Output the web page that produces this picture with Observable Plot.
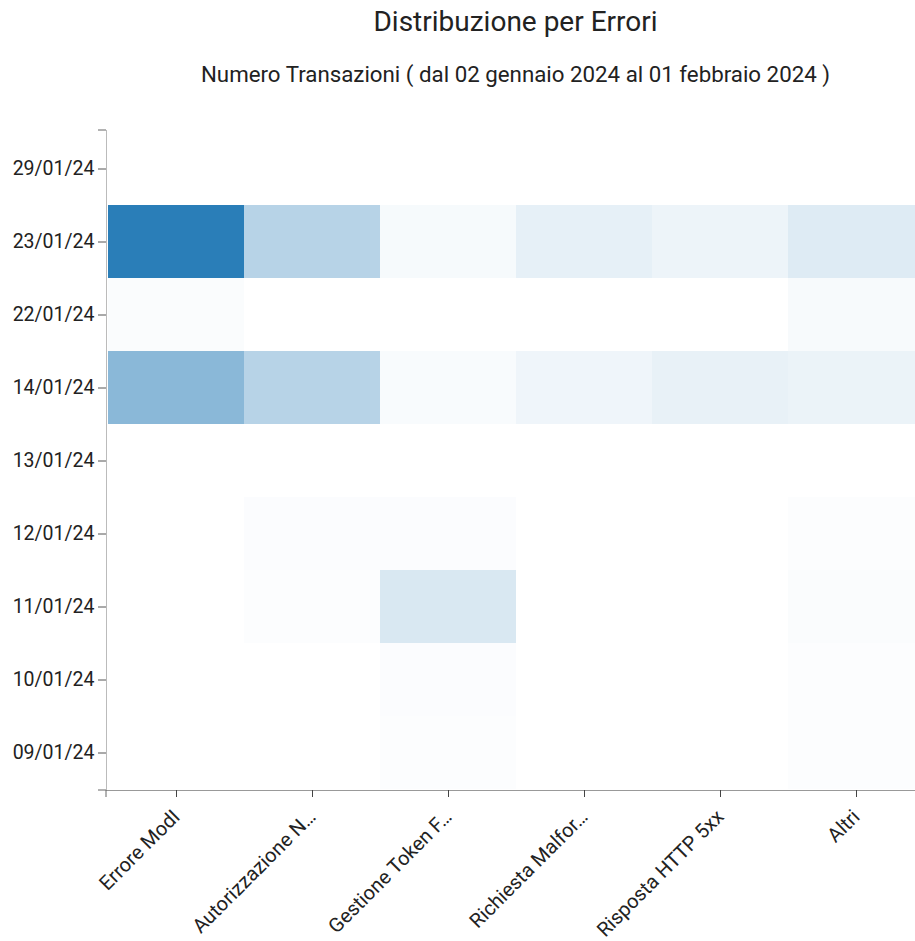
<!DOCTYPE html>
<html><head><meta charset="utf-8">
<script src="https://cdn.jsdelivr.net/npm/d3@7"></script>
<script src="https://cdn.jsdelivr.net/npm/@observablehq/plot@0.6"></script>
<style>
body{margin:0;background:#fff;font-family:Roboto, sans-serif;overflow:hidden}
#head{position:relative;width:915px;height:100px}
#title{position:absolute;left:106px;width:819px;top:6px;text-align:center;font-size:28px;color:#222;line-height:32px}
#subtitle{position:absolute;left:106px;width:819px;top:60px;text-align:center;font-size:22.3px;color:#222;line-height:28px}
#chart svg{display:block}
</style></head><body>
<div id="head"><div id="title">Distribuzione per Errori</div><div id="subtitle">Numero Transazioni ( dal 02 gennaio 2024 al 01 febbraio 2024 )</div></div>
<div id="chart"></div>
<script>
const dates = ["29/01/24","23/01/24","22/01/24","14/01/24","13/01/24","12/01/24","11/01/24","10/01/24","09/01/24"];
const errors = ["Errore ModI","Autorizzazione N…","Gestione Token F…","Richiesta Malfor…","Risposta HTTP 5xx","Altri"];
// values per error type, aligned with dates
const erroreModI      = [0, 95, 2.5, 52, 0, 0, 0, 0, 0];
const autorizzazione  = [0, 32, 0,   32, 0, 2, 1, 0, 0];
const gestioneToken   = [0, 4,  0,   3,  0, 2, 17, 2, 1];
const richiesta       = [0, 11, 0,   7,  0, 0, 0, 0, 0];
const risposta5xx     = [0, 8,  0,   10, 0, 0, 0, 0, 0];
const altri           = [0, 15, 3.5, 9,  0, 1, 2.5, 1, 1];
const series = [erroreModI, autorizzazione, gestioneToken, richiesta, risposta5xx, altri];

const table = [];
errors.forEach((e, i) => dates.forEach((d, j) => table.push({error: e, date: d, value: series[i][j]})));

const chart = Plot.plot({
  width: 915,
  height: 841,
  marginTop: 30,
  marginBottom: 151,
  marginLeft: 106,
  marginRight: -10,
  style: {fontFamily: "Roboto, sans-serif", color: "#222", background: "#fff", overflow: "hidden"},
  x: {domain: errors, padding: 0, label: null},
  y: {domain: dates, padding: 0, label: null},
  opacity: {domain: [0, 100], range: [0, 1]},
  marks: [
    Plot.cell(table, {x: "error", y: "date", fill: "#1f77b4", fillOpacity: "value"}),
    Plot.frame({anchor: "left", stroke: "#bbb"}),
    Plot.frame({anchor: "bottom", stroke: "#999"}),
    Plot.axisY({tickSize: 8, tickPadding: 4, fontSize: 19.5, stroke: "#555"}),
    Plot.axisX({tickRotate: -45, tickSize: 7, tickPadding: 16, fontSize: 20, stroke: "#444"})
  ]
});
document.getElementById("chart").appendChild(chart);

// outer ticks at the axis ends
const yr = chart.scale("y").range;
const xr = chart.scale("x").range;
const svg = d3.select(chart);
const g = svg.append("g").attr("stroke", "#666");
[d3.min(yr), d3.max(yr)].forEach(v => g.append("line").attr("x1", xr[0] - 8).attr("x2", xr[0]).attr("y1", v).attr("y2", v));
g.append("line").attr("x1", xr[0]).attr("x2", xr[0]).attr("y1", d3.max(yr)).attr("y2", d3.max(yr) + 7);
</script>
</body></html>
